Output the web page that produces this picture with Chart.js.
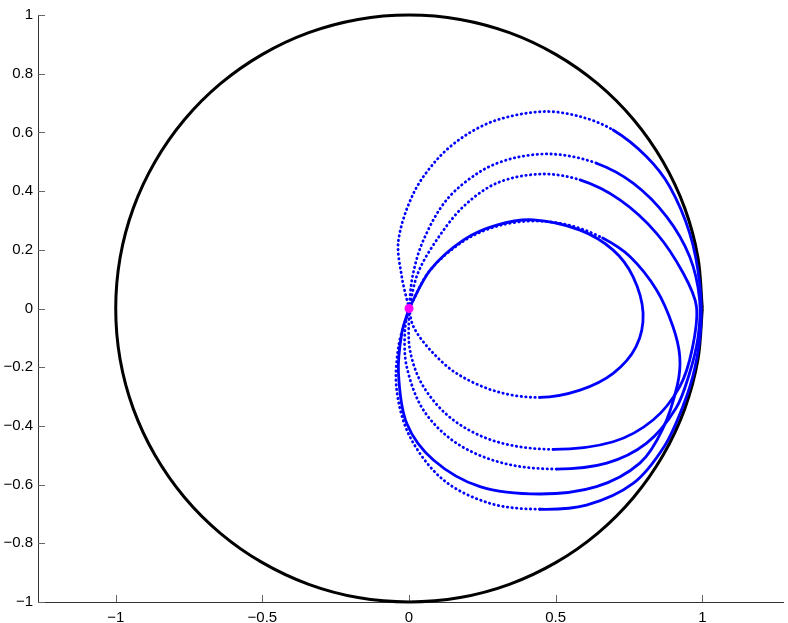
<!DOCTYPE html>
<html>
<head>
<meta charset="utf-8">
<script src="https://cdn.jsdelivr.net/npm/chart.js@4"></script>
<style>
  html, body { margin: 0; padding: 0; background: #fff; }
</style>
</head>
<body>
<canvas id="orbitChart" width="788" height="623"></canvas>
<script>
// axis ticks
const xTicks = [-1, -0.5, 0, 0.5, 1];
const xTickLabels = ['\u22121', '\u22120.5', '0', '0.5', '1'];
const yTicks = [-1, -0.8, -0.6, -0.4, -0.2, 0, 0.2, 0.4, 0.6, 0.8, 1];
const yTickLabels = ['\u22121', '\u22120.8', '\u22120.6', '\u22120.4', '\u22120.2', '0', '0.2', '0.4', '0.6', '0.8', '1'];

// boundary circle
const unitCircle = [
  [1, 0], [0.985, 0.174], [0.940, 0.342], [0.866, 0.5], [0.766, 0.643], [0.643, 0.766],
  [0.5, 0.866], [0.342, 0.940], [0.174, 0.985], [0, 1], [-0.174, 0.985], [-0.342, 0.940],
  [-0.5, 0.866], [-0.643, 0.766], [-0.766, 0.643], [-0.866, 0.5], [-0.940, 0.342], [-0.985, 0.174],
  [-1, 0], [-0.985, -0.174], [-0.940, -0.342], [-0.866, -0.5], [-0.766, -0.643], [-0.643, -0.766],
  [-0.5, -0.866], [-0.342, -0.940], [-0.174, -0.985], [0, -1], [0.174, -0.985], [0.342, -0.940],
  [0.5, -0.866], [0.643, -0.766], [0.766, -0.643], [0.866, -0.5], [0.940, -0.342], [0.985, -0.174],
  [1, 0]
];

// orbit loops through the origin (x, y)
const loopA = [[0,0],[0.072,0.131],[0.185,0.233],[0.299,0.284],[0.424,0.302],[0.583,0.267],[0.696,0.199],
  [0.764,0.108],[0.798,-0.016],[0.774,-0.13],[0.696,-0.221],[0.583,-0.278],[0.446,-0.303],[0.299,-0.283],
  [0.162,-0.221],[0.072,-0.141],[0.015,-0.062],[0,0]];
const loopB = [[0,0],[0.07,0.128],[0.185,0.229],[0.299,0.28],[0.424,0.298],[0.549,0.283],[0.66,0.24],
  [0.753,0.177],[0.844,0.063],[0.90,-0.062],[0.923,-0.164],[0.915,-0.26],[0.865,-0.41],[0.787,-0.527],
  [0.639,-0.607],[0.446,-0.632],[0.242,-0.607],[0.083,-0.516],[-0.008,-0.391],[-0.036,-0.221],[-0.025,-0.085],[0,0]];
const loopC = [[0,0],[0.03,0.12],[0.094,0.233],[0.185,0.347],[0.299,0.427],[0.446,0.458],[0.583,0.438],
  [0.719,0.37],[0.844,0.256],[0.935,0.12],[0.98,0.006],[0.965,-0.14],[0.923,-0.266],[0.832,-0.38],
  [0.696,-0.454],[0.492,-0.48],[0.299,-0.454],[0.151,-0.38],[0.049,-0.266],[0.003,-0.141],[0,0]];
const loopD = [[0,0],[0.012,0.11],[0.049,0.233],[0.128,0.37],[0.242,0.466],[0.355,0.512],[0.492,0.526],
  [0.639,0.495],[0.764,0.427],[0.878,0.313],[0.957,0.176],[0.991,0.029],[0.985,-0.1],[0.955,-0.225],
  [0.91,-0.34],[0.81,-0.459],[0.674,-0.527],[0.503,-0.547],[0.321,-0.527],[0.162,-0.459],[0.049,-0.346],
  [-0.008,-0.198],[-0.014,-0.073],[0,0]];
const loopE = [[0,0],[-0.025,0.11],[-0.036,0.233],[0.015,0.392],[0.094,0.506],[0.185,0.585],[0.299,0.642],
  [0.458,0.671],[0.583,0.654],[0.696,0.608],[0.81,0.517],[0.889,0.415],[0.957,0.256],[0.991,0.086],
  [0.995,-0.06],[0.975,-0.2],[0.935,-0.33],[0.87,-0.47],[0.764,-0.596],[0.605,-0.67],[0.446,-0.684],
  [0.276,-0.664],[0.117,-0.584],[0.003,-0.437],[-0.042,-0.278],[-0.036,-0.13],[0,0]];

const startPoint = [[0, 0]];

const toXY = pts => pts.map(p => ({ x: p[0], y: p[1] }));

// stretches plotted with sparse samples (dotted look)
const loops = [
  { pts: loopA, dottedUntil: 0, dottedFrom: 12 },
  { pts: loopB, dottedUntil: 6, dottedFrom: 99 },
  { pts: loopC, dottedUntil: 6, dottedFrom: 15 },
  { pts: loopD, dottedUntil: 7, dottedFrom: 17 },
  { pts: loopE, dottedUntil: 9, dottedFrom: 20 }
];

const datasets = [];
datasets.push({
  data: toXY(startPoint),
  showLine: false,
  pointRadius: 4.5,
  pointBackgroundColor: '#ff00ff',
  pointBorderWidth: 0,
  clip: 6
});
loops.forEach(l => {
  datasets.push({
    data: toXY(l.pts),
    showLine: true,
    borderColor: '#0000ff',
    borderWidth: 2.8,
    borderCapStyle: 'round',
    pointRadius: 0,
    tension: 0.33,
    clip: 4,
    segment: {
      borderDash: ctx => (ctx.p0DataIndex < l.dottedUntil || ctx.p0DataIndex >= l.dottedFrom) ? [0.4, 4.2] : undefined
    }
  });
});
datasets.push({
  data: toXY(unitCircle),
  showLine: true,
  borderColor: '#000000',
  borderWidth: 3,
  pointRadius: 0,
  tension: 0.34,
  clip: 4
});

const insideTicks = {
  id: 'insideTicks',
  beforeDatasetsDraw(chart) {
    const { ctx, chartArea, scales } = chart;
    ctx.save();
    ctx.strokeStyle = '#666';
    ctx.lineWidth = 1;
    xTicks.forEach(v => {
      const px = Math.round(scales.x.getPixelForValue(v)) + 0.5;
      ctx.beginPath();
      ctx.moveTo(px, chartArea.bottom);
      ctx.lineTo(px, chartArea.bottom - 7);
      ctx.stroke();
    });
    yTicks.forEach(v => {
      const py = Math.round(scales.y.getPixelForValue(v)) + 0.5;
      ctx.beginPath();
      ctx.moveTo(chartArea.left, py);
      ctx.lineTo(chartArea.left + 7, py);
      ctx.stroke();
    });
    ctx.restore();
  }
};

const ctx = document.getElementById('orbitChart').getContext('2d');
const orbitChart = new Chart(ctx, {
  type: 'scatter',
  data: { datasets: datasets },
  options: {
    responsive: false,
    animation: false,
    devicePixelRatio: 1,
    layout: { padding: { top: 15, right: 5, left: 0, bottom: 0 } },
    plugins: {
      legend: { display: false },
      tooltip: { enabled: false }
    },
    scales: {
      x: {
        type: 'linear',
        min: -1.265,
        max: 1.275,
        grid: { display: false, drawTicks: false },
        border: { display: true, color: '#333', width: 1 },
        afterBuildTicks: scale => { scale.ticks = xTicks.map(v => ({ value: v })); },
        afterFit: scale => { scale.height = 21; },
        ticks: {
          padding: 7,
          maxRotation: 0,
          color: '#000',
          font: { family: 'Liberation Sans, Arial, sans-serif', size: 15 },
          callback: (value, index) => xTickLabels[index]
        }
      },
      y: {
        type: 'linear',
        min: -1,
        max: 1,
        grid: { display: false, drawTicks: false },
        border: { display: true, color: '#333', width: 1 },
        afterBuildTicks: scale => { scale.ticks = yTicks.map(v => ({ value: v })); },
        afterFit: scale => { scale.width = 38; },
        ticks: {
          padding: 5,
          color: '#000',
          font: { family: 'Liberation Sans, Arial, sans-serif', size: 15 },
          callback: (value, index) => yTickLabels[index]
        }
      }
    }
  },
  plugins: [insideTicks]
});
</script>
</body>
</html>
